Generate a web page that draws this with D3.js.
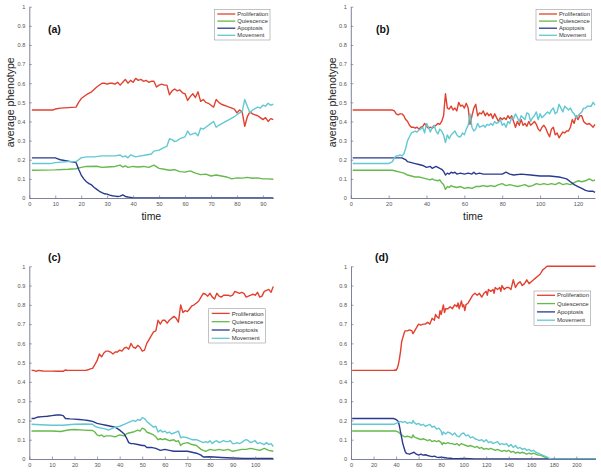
<!DOCTYPE html>
<html>
<head>
<meta charset="utf-8">
<script src="https://cdn.jsdelivr.net/npm/d3@7"></script>
<style>
  html, body { margin: 0; padding: 0; background: #fff; }
  svg { display: block; }
  text { font-family: "Liberation Sans", Arial, sans-serif; }
</style>
</head>
<body>
<svg id="chart" width="601" height="474"></svg>
<script>
// ---------------- DATA ----------------
const seriesNames = ["Proliferation", "Quiescence", "Apoptosis", "Movement"];
const yTicks = [0, 0.1, 0.2, 0.3, 0.4, 0.5, 0.6, 0.7, 0.8, 0.9, 1];
const yTickLabels = ["0", "0.1", "0.2", "0.3", "0.4", "0.5", "0.6", "0.7", "0.8", "0.9", "1"];
const panelLabels = ["(a)", "(b)", "(c)", "(d)"];
const xTicksA = [0, 10, 20, 30, 40, 50, 60, 70, 80, 90];
const xTicksB = [0, 20, 40, 60, 80, 100, 120];
const xTicksC = [0, 10, 20, 30, 40, 50, 60, 70, 80, 90, 100];
const xTicksD = [0, 20, 40, 60, 80, 100, 120, 140, 160, 180, 200];
const xMaxA = 94, xMaxB = 129, xMaxC = 108, xMaxD = 217;

// Panel (a)  [time, value]
const aProliferation = [[1,0.46],[9,0.46],[10,0.465],[12,0.47],[18,0.475],[19,0.5],[20,0.52],[22,0.54],[24,0.555],[26,0.58],[28,0.6],[29,0.6],[30,0.595],[31,0.6],[32,0.6],[33,0.595],[34,0.605],[35,0.59],[36,0.605],[37,0.62],[38,0.6],[39,0.615],[40,0.605],[41,0.625],[42,0.615],[43,0.62],[44,0.61],[45,0.615],[46,0.605],[47,0.61],[48,0.61],[49,0.58],[50,0.59],[51,0.595],[52,0.59],[53,0.59],[54,0.54],[55,0.56],[56,0.57],[57,0.56],[58,0.565],[59,0.55],[60,0.545],[61,0.51],[62,0.53],[63,0.545],[64,0.525],[65,0.555],[66,0.505],[67,0.515],[68,0.5],[69,0.495],[70,0.485],[71,0.475],[72,0.515],[73,0.5],[74,0.49],[75,0.485],[76,0.48],[77,0.475],[78,0.47],[79,0.465],[80,0.445],[81,0.46],[82,0.45],[83,0.375],[84,0.425],[85,0.45],[86,0.44],[87,0.435],[88,0.43],[89,0.42],[90,0.41],[91,0.42],[92,0.4],[93,0.415],[94,0.41]];
const aQuiescence = [[1,0.145],[10,0.147],[15,0.15],[18,0.153],[20,0.16],[22,0.165],[26,0.166],[28,0.16],[30,0.162],[33,0.165],[35,0.172],[36,0.162],[37,0.168],[38,0.16],[40,0.165],[42,0.162],[44,0.165],[46,0.16],[48,0.172],[50,0.155],[52,0.15],[54,0.145],[56,0.148],[58,0.138],[60,0.135],[62,0.142],[64,0.13],[66,0.122],[68,0.125],[70,0.115],[72,0.12],[74,0.115],[76,0.11],[78,0.1],[80,0.105],[82,0.104],[84,0.108],[86,0.103],[88,0.105],[90,0.1],[92,0.1],[94,0.098]];
const aApoptosis = [[1,0.21],[10,0.21],[11,0.205],[12,0.2],[14,0.195],[16,0.19],[17,0.188],[18,0.185],[19,0.15],[20,0.12],[21,0.1],[22,0.085],[23,0.075],[24,0.068],[25,0.055],[26,0.045],[27,0.035],[28,0.028],[29,0.022],[30,0.02],[31,0.015],[32,0.012],[33,0.01],[34,0.008],[35,0.01],[36,0.016],[37,0.008],[38,0.005],[39,0.003],[40,0],[94,0]];
const aMovement = [[1,0.18],[8,0.18],[10,0.185],[15,0.19],[18,0.19],[19,0.2],[20,0.21],[22,0.215],[25,0.215],[28,0.22],[30,0.22],[33,0.22],[35,0.225],[36,0.215],[37,0.22],[38,0.21],[39,0.225],[40,0.22],[41,0.215],[43,0.22],[45,0.225],[47,0.23],[48,0.245],[50,0.25],[52,0.265],[53,0.27],[54,0.31],[55,0.305],[56,0.295],[57,0.3],[58,0.31],[60,0.32],[61,0.35],[62,0.33],[63,0.335],[64,0.34],[65,0.325],[66,0.365],[67,0.36],[68,0.37],[70,0.39],[71,0.4],[72,0.37],[73,0.38],[75,0.395],[77,0.41],[79,0.425],[80,0.435],[81,0.445],[82,0.45],[83,0.515],[84,0.48],[85,0.445],[86,0.46],[88,0.475],[89,0.47],[90,0.485],[91,0.48],[92,0.495],[93,0.485],[94,0.49]];

// Panel (b)
const bProliferation = [[1,0.46],[22,0.46],[23,0.455],[24,0.44],[25,0.435],[26,0.44],[27,0.44],[28,0.43],[29,0.41],[30,0.4],[31,0.38],[32,0.37],[33,0.37],[34,0.365],[35,0.37],[36,0.36],[37,0.37],[38,0.375],[39,0.39],[40,0.375],[41,0.365],[42,0.37],[43,0.365],[44,0.375],[45,0.38],[46,0.39],[47,0.385],[48,0.4],[49,0.43],[50,0.545],[51,0.47],[52,0.465],[53,0.48],[54,0.46],[55,0.47],[56,0.455],[57,0.5],[58,0.48],[59,0.485],[60,0.47],[61,0.495],[62,0.47],[63,0.385],[64,0.43],[65,0.47],[66,0.49],[67,0.43],[68,0.445],[69,0.44],[70,0.455],[71,0.43],[72,0.445],[73,0.43],[74,0.44],[75,0.415],[76,0.44],[77,0.42],[78,0.4],[79,0.42],[80,0.41],[81,0.42],[82,0.41],[83,0.43],[84,0.415],[85,0.43],[86,0.4],[87,0.37],[88,0.4],[89,0.38],[90,0.41],[91,0.38],[92,0.39],[93,0.375],[94,0.4],[95,0.38],[96,0.39],[97,0.4],[98,0.385],[99,0.36],[100,0.35],[101,0.37],[102,0.38],[103,0.365],[104,0.34],[105,0.32],[106,0.36],[107,0.37],[108,0.33],[109,0.34],[110,0.315],[111,0.33],[112,0.345],[113,0.34],[114,0.35],[115,0.35],[116,0.37],[117,0.41],[118,0.39],[119,0.43],[120,0.41],[121,0.43],[122,0.43],[123,0.4],[124,0.39],[125,0.385],[126,0.39],[127,0.38],[128,0.37],[129,0.385]];
const bQuiescence = [[1,0.145],[22,0.145],[24,0.14],[26,0.135],[28,0.13],[30,0.12],[32,0.115],[34,0.11],[36,0.11],[38,0.105],[40,0.1],[42,0.095],[43,0.1],[44,0.095],[46,0.09],[47,0.095],[48,0.08],[49,0.07],[50,0.045],[51,0.06],[52,0.055],[53,0.065],[54,0.06],[56,0.055],[58,0.06],[60,0.05],[62,0.055],[64,0.05],[66,0.06],[68,0.06],[70,0.065],[72,0.06],[74,0.065],[76,0.06],[78,0.07],[80,0.075],[82,0.065],[84,0.07],[86,0.065],[88,0.06],[90,0.065],[92,0.07],[94,0.06],[96,0.065],[98,0.075],[100,0.07],[102,0.075],[104,0.07],[106,0.075],[108,0.07],[110,0.08],[112,0.07],[114,0.075],[116,0.07],[118,0.08],[120,0.09],[122,0.085],[124,0.09],[126,0.1],[128,0.09],[129,0.095]];
const bApoptosis = [[1,0.21],[27,0.21],[28,0.205],[29,0.2],[30,0.19],[32,0.185],[34,0.18],[36,0.175],[38,0.17],[40,0.16],[42,0.165],[43,0.155],[44,0.16],[45,0.165],[46,0.16],[47,0.155],[48,0.15],[49,0.14],[50,0.12],[51,0.13],[52,0.125],[53,0.135],[54,0.13],[55,0.135],[56,0.125],[58,0.13],[60,0.125],[62,0.13],[64,0.125],[65,0.135],[66,0.125],[68,0.13],[70,0.125],[75,0.125],[80,0.125],[82,0.135],[84,0.125],[86,0.12],[90,0.125],[95,0.12],[100,0.115],[105,0.115],[110,0.11],[112,0.105],[114,0.1],[116,0.085],[118,0.07],[120,0.06],[122,0.05],[124,0.04],[126,0.035],[128,0.035],[129,0.03]];
const bMovement = [[1,0.18],[20,0.18],[21,0.185],[22,0.19],[23,0.21],[24,0.22],[25,0.22],[26,0.225],[27,0.22],[28,0.23],[29,0.26],[30,0.3],[31,0.32],[32,0.34],[33,0.345],[34,0.35],[35,0.345],[36,0.355],[37,0.36],[38,0.37],[39,0.34],[40,0.39],[41,0.37],[42,0.345],[43,0.37],[44,0.38],[45,0.35],[46,0.335],[47,0.36],[48,0.35],[49,0.33],[50,0.29],[51,0.33],[52,0.31],[53,0.33],[54,0.34],[55,0.35],[56,0.33],[57,0.32],[58,0.32],[59,0.34],[60,0.33],[61,0.36],[62,0.38],[63,0.44],[64,0.37],[65,0.35],[66,0.36],[67,0.39],[68,0.37],[69,0.375],[70,0.38],[71,0.37],[72,0.385],[73,0.38],[74,0.39],[75,0.38],[76,0.4],[77,0.39],[78,0.395],[79,0.41],[80,0.38],[81,0.39],[82,0.37],[83,0.4],[84,0.39],[85,0.42],[86,0.415],[87,0.44],[88,0.42],[89,0.4],[90,0.43],[91,0.42],[92,0.41],[93,0.445],[94,0.44],[95,0.4],[96,0.42],[97,0.43],[98,0.45],[99,0.41],[100,0.44],[101,0.42],[102,0.43],[103,0.44],[104,0.45],[105,0.44],[106,0.46],[107,0.47],[108,0.44],[109,0.45],[110,0.49],[111,0.47],[112,0.45],[113,0.48],[114,0.47],[115,0.46],[116,0.47],[117,0.45],[118,0.44],[119,0.42],[120,0.43],[121,0.44],[122,0.45],[123,0.47],[124,0.47],[125,0.48],[126,0.48],[127,0.48],[128,0.5],[129,0.485]];

// Panel (c)
const cProliferation = [[1,0.46],[2,0.46],[3,0.455],[4,0.46],[6,0.457],[10,0.456],[12,0.455],[15,0.455],[16,0.462],[17,0.46],[25,0.46],[26,0.463],[27,0.468],[28,0.47],[29,0.49],[30,0.51],[31,0.545],[32,0.53],[33,0.55],[34,0.56],[35,0.56],[36,0.555],[37,0.545],[38,0.555],[39,0.555],[40,0.565],[41,0.56],[42,0.575],[43,0.58],[44,0.57],[45,0.6],[46,0.58],[47,0.575],[48,0.59],[49,0.58],[50,0.56],[51,0.565],[52,0.6],[53,0.62],[54,0.64],[55,0.66],[56,0.665],[57,0.72],[58,0.7],[59,0.72],[60,0.72],[61,0.705],[62,0.72],[63,0.73],[64,0.74],[65,0.73],[66,0.71],[67,0.8],[68,0.76],[69,0.77],[70,0.765],[71,0.78],[72,0.795],[73,0.8],[74,0.81],[75,0.82],[76,0.84],[77,0.86],[78,0.855],[79,0.845],[80,0.86],[81,0.84],[82,0.83],[83,0.86],[84,0.845],[85,0.84],[86,0.85],[87,0.85],[88,0.85],[89,0.845],[90,0.85],[91,0.87],[92,0.865],[93,0.86],[94,0.865],[95,0.86],[96,0.84],[97,0.845],[98,0.85],[99,0.855],[100,0.85],[101,0.865],[102,0.84],[103,0.845],[104,0.87],[105,0.875],[106,0.88],[107,0.865],[108,0.895]];
const cQuiescence = [[1,0.145],[10,0.145],[14,0.143],[16,0.148],[18,0.152],[20,0.153],[24,0.15],[28,0.148],[29,0.14],[30,0.125],[31,0.12],[32,0.125],[33,0.115],[34,0.12],[36,0.12],[38,0.115],[40,0.125],[42,0.12],[43,0.13],[44,0.135],[46,0.14],[47,0.145],[48,0.15],[49,0.145],[50,0.16],[51,0.155],[52,0.14],[53,0.135],[54,0.13],[55,0.125],[56,0.115],[57,0.1],[58,0.105],[59,0.1],[60,0.105],[62,0.095],[64,0.1],[65,0.09],[66,0.095],[67,0.07],[68,0.08],[70,0.085],[72,0.075],[74,0.07],[76,0.05],[77,0.045],[78,0.04],[80,0.05],[82,0.045],[84,0.05],[86,0.045],[88,0.05],[90,0.04],[92,0.045],[94,0.05],[96,0.05],[98,0.055],[100,0.05],[102,0.045],[104,0.055],[106,0.045],[108,0.04]];
const cApoptosis = [[1,0.21],[2,0.21],[3,0.215],[4,0.218],[6,0.22],[8,0.222],[10,0.225],[12,0.228],[14,0.228],[15,0.225],[16,0.21],[18,0.208],[20,0.207],[22,0.205],[24,0.203],[26,0.2],[28,0.195],[30,0.185],[32,0.18],[34,0.175],[36,0.17],[38,0.165],[40,0.15],[41,0.14],[42,0.13],[43,0.11],[44,0.085],[45,0.08],[46,0.08],[48,0.075],[50,0.07],[51,0.07],[52,0.06],[54,0.06],[56,0.055],[58,0.045],[60,0.05],[62,0.045],[64,0.04],[66,0.04],[68,0.04],[70,0.04],[72,0.035],[74,0.03],[76,0.02],[77,0.01],[80,0.012],[85,0.008],[90,0.005],[95,0.003],[100,0.003],[108,0.003]];
const cMovement = [[1,0.18],[5,0.178],[10,0.175],[15,0.175],[20,0.18],[25,0.182],[28,0.18],[29,0.17],[30,0.165],[32,0.16],[34,0.155],[35,0.15],[36,0.155],[38,0.165],[40,0.17],[42,0.18],[44,0.19],[46,0.2],[47,0.195],[48,0.205],[49,0.2],[50,0.215],[51,0.21],[52,0.195],[53,0.185],[54,0.175],[55,0.165],[56,0.17],[57,0.14],[58,0.15],[59,0.14],[60,0.145],[61,0.135],[62,0.14],[63,0.13],[64,0.135],[65,0.14],[66,0.145],[67,0.11],[68,0.115],[70,0.11],[72,0.1],[74,0.1],[75,0.095],[76,0.09],[77,0.085],[78,0.09],[79,0.085],[80,0.095],[81,0.08],[82,0.09],[83,0.095],[84,0.085],[85,0.09],[86,0.095],[87,0.09],[88,0.09],[89,0.095],[90,0.08],[91,0.08],[92,0.085],[93,0.08],[94,0.085],[95,0.095],[96,0.1],[97,0.095],[98,0.085],[99,0.09],[100,0.095],[101,0.08],[102,0.085],[103,0.08],[104,0.075],[105,0.085],[106,0.075],[107,0.08],[108,0.065]];

// Panel (d)
const dProliferation = [[1,0.46],[38,0.46],[39,0.462],[40,0.46],[41,0.47],[42,0.49],[43,0.52],[44,0.56],[45,0.61],[46,0.63],[47,0.65],[48,0.665],[50,0.665],[52,0.67],[54,0.665],[55,0.65],[56,0.66],[58,0.68],[60,0.7],[62,0.695],[64,0.7],[66,0.7],[68,0.71],[70,0.7],[72,0.73],[74,0.72],[75,0.75],[76,0.74],[78,0.73],[79,0.77],[80,0.75],[82,0.8],[83,0.76],[84,0.78],[86,0.78],[88,0.79],[90,0.78],[92,0.8],[94,0.79],[95,0.81],[96,0.78],[98,0.82],[99,0.79],[100,0.8],[101,0.77],[102,0.8],[104,0.81],[106,0.83],[108,0.85],[110,0.86],[112,0.85],[114,0.86],[116,0.84],[118,0.86],[120,0.87],[121,0.85],[122,0.88],[124,0.87],[126,0.88],[127,0.86],[128,0.89],[130,0.88],[132,0.89],[133,0.87],[134,0.9],[136,0.88],[138,0.89],[140,0.89],[142,0.88],[144,0.93],[146,0.89],[148,0.91],[150,0.92],[152,0.9],[154,0.91],[156,0.93],[158,0.91],[160,0.92],[162,0.93],[164,0.94],[166,0.95],[168,0.96],[170,0.98],[172,0.99],[174,1],[217,1]];
const dQuiescence = [[1,0.145],[40,0.145],[42,0.14],[44,0.13],[46,0.12],[48,0.115],[50,0.118],[52,0.115],[54,0.11],[55,0.125],[56,0.115],[58,0.11],[60,0.105],[62,0.1],[64,0.105],[66,0.1],[68,0.095],[70,0.1],[72,0.09],[74,0.095],[76,0.09],[78,0.095],[80,0.085],[81,0.075],[82,0.085],[84,0.08],[86,0.085],[88,0.08],[90,0.08],[92,0.075],[94,0.08],[96,0.07],[98,0.08],[100,0.075],[102,0.07],[104,0.065],[106,0.07],[108,0.065],[110,0.06],[112,0.065],[114,0.055],[116,0.06],[118,0.05],[120,0.055],[122,0.05],[124,0.055],[126,0.05],[128,0.045],[130,0.05],[132,0.045],[134,0.04],[136,0.045],[138,0.04],[140,0.045],[142,0.035],[144,0.04],[146,0.03],[148,0.035],[150,0.03],[152,0.035],[154,0.03],[156,0.025],[158,0.03],[160,0.025],[162,0.03],[164,0.025],[166,0.02],[168,0.02],[170,0.015],[172,0.01],[174,0.005],[176,0],[217,0]];
const dApoptosis = [[1,0.21],[38,0.21],[40,0.205],[42,0.195],[43,0.17],[44,0.14],[45,0.11],[46,0.08],[47,0.06],[48,0.04],[49,0.03],[50,0.028],[52,0.025],[54,0.03],[56,0.035],[58,0.025],[60,0.02],[62,0.025],[64,0.02],[66,0.022],[68,0.018],[70,0.015],[72,0.012],[74,0.015],[76,0.01],[78,0.008],[80,0.01],[82,0.008],[85,0.005],[88,0.004],[90,0.003],[95,0.002],[100,0.003],[105,0.002],[110,0],[217,0]];
const dMovement = [[1,0.18],[38,0.18],[40,0.185],[42,0.19],[44,0.195],[46,0.19],[48,0.195],[50,0.185],[52,0.19],[54,0.185],[55,0.2],[56,0.19],[58,0.18],[60,0.185],[62,0.175],[64,0.18],[66,0.17],[68,0.175],[70,0.18],[72,0.165],[74,0.17],[76,0.155],[78,0.16],[80,0.145],[81,0.125],[82,0.14],[84,0.13],[86,0.14],[88,0.135],[90,0.125],[92,0.135],[94,0.12],[96,0.115],[98,0.13],[100,0.135],[102,0.12],[104,0.125],[106,0.11],[108,0.115],[110,0.105],[112,0.1],[114,0.095],[116,0.1],[118,0.09],[120,0.1],[122,0.085],[124,0.09],[126,0.08],[128,0.085],[130,0.09],[132,0.075],[134,0.08],[136,0.075],[138,0.08],[140,0.065],[142,0.075],[144,0.06],[146,0.07],[148,0.055],[150,0.06],[152,0.05],[154,0.055],[156,0.045],[158,0.05],[160,0.04],[162,0.045],[164,0.035],[166,0.03],[168,0.025],[170,0.02],[172,0.015],[174,0.01],[176,0.003],[178,0],[217,0]];

// ---------------- LAYOUT / STYLE ----------------
const colors = { Proliferation: "#e2412f", Quiescence: "#66b94c", Apoptosis: "#2a3b8f", Movement: "#62c8d2" };

const panels = [
  { label: panelLabels[0], x0: 29.3, x1: 273.3, y0: 6.7, y1: 198, xMax: xMaxA, xTicks: xTicksA,
    data: [aProliferation, aQuiescence, aApoptosis, aMovement], axisTitles: true,
    legend: { x: 214.3, y: 9.3, w: 55.7, h: 30.7, rowGap: 7.1, first: 4.7, fs: 5.8 }, labelPos: [48, 33] },
  { label: panelLabels[1], x0: 350.8, x1: 595, y0: 6.7, y1: 198, xMax: xMaxB, xTicks: xTicksB,
    data: [bProliferation, bQuiescence, bApoptosis, bMovement], axisTitles: true,
    legend: { x: 536, y: 9.3, w: 55.7, h: 30.7, rowGap: 7.1, first: 4.7, fs: 5.8 }, labelPos: [376, 33] },
  { label: panelLabels[2], x0: 29.3, x1: 273.3, y0: 266.3, y1: 459, xMax: xMaxC, xTicks: xTicksC,
    data: [cProliferation, cQuiescence, cApoptosis, cMovement], axisTitles: false,
    legend: { x: 208.7, y: 308.7, w: 56.6, h: 34.3, rowGap: 8.3, first: 4.7, fs: 6 }, labelPos: [48, 261] },
  { label: panelLabels[3], x0: 351, x1: 595.5, y0: 266.3, y1: 459, xMax: xMaxD, xTicks: xTicksD,
    data: [dProliferation, dQuiescence, dApoptosis, dMovement], axisTitles: false,
    legend: { x: 534, y: 291, w: 56.7, h: 34.3, rowGap: 8.3, first: 4.3, fs: 6 }, labelPos: [375, 261] }
];

const svg = d3.select("#chart");
const axisColor = "#707490";
const tickTextColor = "#555";

panels.forEach(p => {
  const g = svg.append("g");
  const x = d3.scaleLinear().domain([0, p.xMax]).range([p.x0, p.x1]);
  const y = d3.scaleLinear().domain([0, 1]).range([p.y1, p.y0]);

  // lines
  const line = d3.line().x(d => x(d[0])).y(d => y(d[1]));
  // draw in order so that later series sit on top like in the original
  const order = [0, 1, 2, 3];
  order.forEach(i => {
    g.append("path")
      .datum(p.data[i])
      .attr("fill", "none")
      .attr("stroke", colors[seriesNames[i]])
      .attr("stroke-width", 1.4)
      .attr("stroke-linejoin", "round")
      .attr("d", line);
  });

  // axes
  const xAxis = d3.axisBottom(x).tickValues(p.xTicks).tickSizeInner(-2.5).tickSizeOuter(0).tickPadding(4.5)
    .tickFormat(d3.format("d"));
  const gx = g.append("g").attr("transform", `translate(0,${p.y1})`).call(xAxis);
  const yAxis = d3.axisLeft(y).tickValues(yTicks).tickSizeInner(-2.5).tickSizeOuter(0).tickPadding(4)
    .tickFormat((d, i) => yTickLabels[i]);
  const gy = g.append("g").attr("transform", `translate(${p.x0},0)`).call(yAxis);
  [gx, gy].forEach(ax => {
    ax.select(".domain").attr("stroke", axisColor).attr("stroke-width", 0.9);
    ax.selectAll(".tick line").attr("stroke", axisColor).attr("stroke-width", 0.7);
    ax.selectAll(".tick text").attr("fill", tickTextColor).attr("font-size", 5.6)
      .attr("font-family", "Liberation Sans, Arial, sans-serif");
  });

  // panel label
  g.append("text").attr("x", p.labelPos[0]).attr("y", p.labelPos[1])
    .attr("font-size", 10.5).attr("font-weight", "bold").attr("fill", "#111").text(p.label);

  // axis titles
  if (p.axisTitles) {
    g.append("text").attr("x", (p.x0 + p.x1) / 2).attr("y", 220)
      .attr("text-anchor", "middle").attr("font-size", 10.5).attr("fill", "#222").text("time");
    g.append("text")
      .attr("transform", `translate(${p.x0 - 15},${(p.y0 + p.y1) / 2}) rotate(-90)`)
      .attr("text-anchor", "middle").attr("font-size", 10.5).attr("fill", "#222").text("average phenotype");
  }

  // legend
  const L = p.legend;
  const lg = g.append("g");
  lg.append("rect").attr("x", L.x).attr("y", L.y).attr("width", L.w).attr("height", L.h)
    .attr("fill", "#fff").attr("stroke", "#9a9a9a").attr("stroke-width", 0.6);
  seriesNames.forEach((name, i) => {
    const cy = L.y + L.first + i * L.rowGap;
    lg.append("line").attr("x1", L.x + 3).attr("x2", L.x + 21).attr("y1", cy).attr("y2", cy)
      .attr("stroke", colors[name]).attr("stroke-width", 1.3);
    lg.append("text").attr("x", L.x + 23).attr("y", cy).attr("dy", "0.35em")
      .attr("font-size", L.fs).attr("fill", "#333").text(name);
  });
});
</script>
</body>
</html>
